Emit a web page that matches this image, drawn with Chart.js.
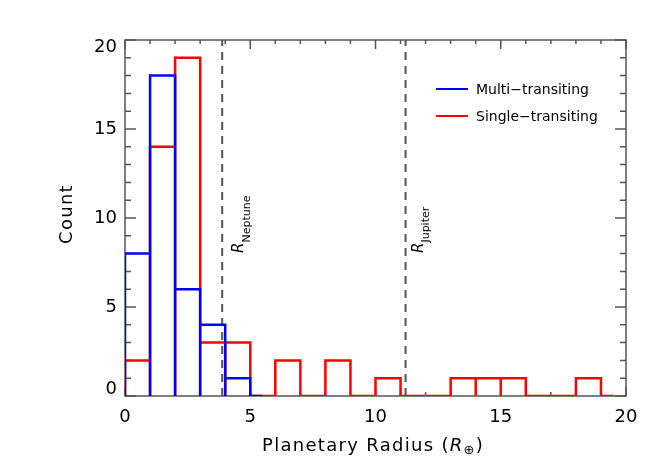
<!DOCTYPE html>
<html>
<head>
<meta charset="utf-8">
<script src="https://cdn.jsdelivr.net/npm/chart.js@4.4.1/dist/chart.umd.min.js"></script>
<style>
    body { margin: 0; background: #fff; }
    #wrap { width: 664px; height: 475px; }
</style>
</head>
<body>
<div id="wrap"><canvas id="radiusChart" width="664" height="475"></canvas></div>
<script>
// histogram bins (lower edges, width 1 R_earth)
var binStarts = [0, 1, 2, 3, 4, 5, 6, 7, 8, 9, 10, 11, 12, 13, 14, 15, 16, 17, 18, 19];
var multiCounts = [8, 18, 6, 4, 1, 0];
var singleCounts = [2, 14, 19, 3, 3, 0, 2, 0, 2, 0, 1, 0, 0, 1, 1, 1, 0, 0, 1, 0];
var multiEnd = 5.5;
var singleEnd = 19.5;
var seriesLabels = ['Multi\u2212transiting', 'Single\u2212transiting'];
var seriesColors = ['#0000ff', '#ff0000'];

// reference radii (Neptune, Jupiter)
var refRadii = [3.88, 11.2];
var refNames = ['Neptune', 'Jupiter'];

var xTicks = [0, 5, 10, 15, 20];
var yTicks = [0, 5, 10, 15, 20];

function outline(counts, end) {
    var pts = [];
    for (var i = 0; i < counts.length; i++) {
        var lo = binStarts[i];
        if (lo >= end) break;
        var hi = Math.min(lo + 1, end);
        pts.push({x: lo, y: 0}, {x: lo, y: counts[i]}, {x: hi, y: counts[i]}, {x: hi, y: 0});
    }
    return pts;
}

function drawPieces(ctx, x, y, pieces) {
    pieces.forEach(function(p) {
        ctx.font = p.font;
        ctx.fillText(p.text, x, y + (p.dy || 0));
        x += ctx.measureText(p.text).width;
    });
}

var idlPlugin = {
    id: 'idlFrame',
    beforeDatasetsDraw: function(chart) {
        var ctx = chart.ctx, a = chart.chartArea;
        var xs = chart.scales.x, ys = chart.scales.y;
        ctx.save();
        ctx.strokeStyle = '#555';
        ctx.lineWidth = 1.5;
        ctx.strokeRect(a.left, a.top, a.right - a.left, a.bottom - a.top);
        ctx.beginPath();
        for (var v = xs.min; v <= xs.max; v++) {
            var px = xs.getPixelForValue(v);
            var len = v % 5 === 0 ? 9 : 4;
            ctx.moveTo(px, a.bottom); ctx.lineTo(px, a.bottom - len);
            ctx.moveTo(px, a.top); ctx.lineTo(px, a.top + len);
        }
        for (var w = ys.min; w <= ys.max; w++) {
            var py = ys.getPixelForValue(w);
            var ylen = w % 5 === 0 ? 11 : 6;
            ctx.moveTo(a.left, py); ctx.lineTo(a.left + ylen, py);
            ctx.moveTo(a.right, py); ctx.lineTo(a.right - ylen, py);
        }
        ctx.stroke();
        ctx.restore();
    },
    afterDraw: function(chart) {
        var ctx = chart.ctx, a = chart.chartArea;
        var xs = chart.scales.x;
        ctx.save();
        ctx.fillStyle = '#000';
        ctx.textBaseline = 'alphabetic';
        ctx.textAlign = 'left';

        // x axis title
        ctx.letterSpacing = '1.3px';
        drawPieces(ctx, 262, 451, [
            {text: 'Planetary Radius (', font: '18px "DejaVu Sans"'},
            {text: 'R', font: 'italic 18px "DejaVu Sans"'},
            {text: '\u2295', font: '13px "DejaVu Sans"', dy: 3},
            {text: ')', font: '18px "DejaVu Sans"'}
        ]);

        // y axis title
        ctx.save();
        ctx.translate(67, 214);
        ctx.rotate(-Math.PI / 2);
        ctx.textAlign = 'center';
        ctx.textBaseline = 'middle';
        ctx.font = '18px "DejaVu Sans"';
        ctx.fillText('Count', 0, 0);
        ctx.restore();
        ctx.letterSpacing = '0px';

        // labels on the reference lines
        var labelDx = [21, 17];
        refRadii.forEach(function(r, i) {
            ctx.save();
            ctx.translate(xs.getPixelForValue(r) + labelDx[i], 253);
            ctx.rotate(-Math.PI / 2);
            drawPieces(ctx, 0, 0, [
                {text: 'R', font: 'italic 15px "DejaVu Sans"'},
                {text: refNames[i], font: '11px "DejaVu Sans"', dy: 6.5}
            ]);
            ctx.restore();
        });

        // legend
        ctx.lineWidth = 2;
        ctx.font = '14px "DejaVu Sans"';
        seriesLabels.forEach(function(label, i) {
            var ly = a.top + 49 + i * 27;
            ctx.strokeStyle = seriesColors[i];
            ctx.beginPath();
            ctx.moveTo(436, ly);
            ctx.lineTo(468, ly);
            ctx.stroke();
            ctx.fillText(label, 476, ly + 4.5);
        });
        ctx.restore();
    }
};

var datasets = [
    {
        label: seriesLabels[0],
        data: outline(multiCounts, multiEnd),
        borderColor: seriesColors[0],
        order: 0
    },
    {
        label: seriesLabels[1],
        data: outline(singleCounts, singleEnd),
        borderColor: seriesColors[1],
        order: 1
    }
].map(function(d) {
    d.borderWidth = 2.5;
    d.pointRadius = 0;
    d.tension = 0;
    d.fill = false;
    d.borderJoinStyle = 'miter';
    return d;
});

refRadii.forEach(function(r, i) {
    datasets.push({
        label: refNames[i],
        data: [{x: r, y: yTicks[0]}, {x: r, y: yTicks[yTicks.length - 1]}],
        borderColor: '#555',
        borderWidth: 2,
        borderDash: [8, 6],
        pointRadius: 0,
        fill: false,
        order: 2
    });
});

var ctx = document.getElementById('radiusChart').getContext('2d');
var radiusChart = new Chart(ctx, {
    type: 'line',
    data: { datasets: datasets },
    options: {
        responsive: false,
        devicePixelRatio: 1,
        animation: false,
        events: [],
        layout: { padding: { left: 10, top: 40, right: 38, bottom: 0 } },
        plugins: {
            legend: { display: false },
            tooltip: { enabled: false }
        },
        scales: {
            x: {
                type: 'linear',
                min: xTicks[0],
                max: xTicks[xTicks.length - 1],
                grid: { display: false, drawTicks: false },
                border: { display: false },
                afterBuildTicks: function(s) { s.ticks = xTicks.map(function(v) { return {value: v}; }); },
                afterFit: function(s) { s.height = 79; },
                ticks: {
                    padding: 11,
                    color: '#000',
                    maxRotation: 0,
                    font: { family: 'DejaVu Sans', size: 18 }
                }
            },
            y: {
                type: 'linear',
                min: yTicks[0],
                max: yTicks[yTicks.length - 1],
                grid: { display: false, drawTicks: false },
                border: { display: false },
                afterBuildTicks: function(s) { s.ticks = yTicks.map(function(v) { return {value: v}; }); },
                afterFit: function(s) { s.width = 115; },
                ticks: {
                    padding: 8,
                    color: '#000',
                    font: { family: 'DejaVu Sans', size: 18, lineHeight: '14px' },
                    // end labels sit inside the axis range, like the original
                    callback: function(v) {
                        if (v === yTicks[yTicks.length - 1]) return ['', String(v)];
                        if (v === yTicks[0]) return [String(v), ''];
                        return String(v);
                    }
                }
            }
        }
    },
    plugins: [idlPlugin]
});
</script>
</body>
</html>
